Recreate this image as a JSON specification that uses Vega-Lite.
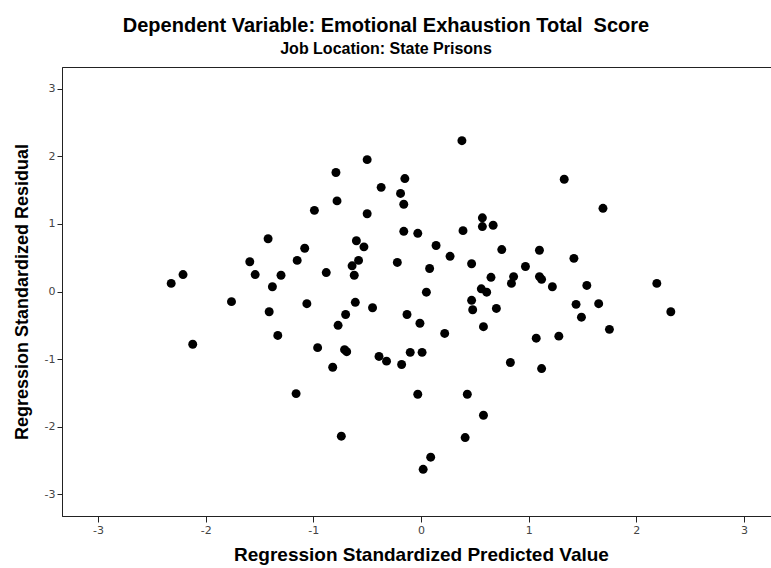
{
  "$schema": "https://vega.github.io/schema/vega-lite/v6.json",
  "autosize": "none",
  "padding": {"left": 62, "top": 67, "right": 0, "bottom": 52},
  "width": 718,
  "height": 449,
  "background": "white",
  "config": {
    "view": {"stroke": "#222", "strokeWidth": 1},
    "axis": {"grid": false, "domainColor": "#222", "tickColor": "#222", "labelFont": "DejaVu Sans", "labelFontSize": 11, "labelColor": "#444", "titleFont": "Liberation Sans", "titleFontWeight": "bold", "titleColor": "#000"}
  },
  "title": {
    "text": "Dependent Variable: Emotional Exhaustion Total\u00a0 Score",
    "subtitle": "Job Location: State Prisons",
    "anchor": "middle",
    "dx": -35,
    "font": "Liberation Sans",
    "fontSize": 20,
    "fontWeight": "bold",
    "color": "#000",
    "subtitleFont": "Liberation Sans",
    "subtitleFontSize": 16,
    "subtitleFontWeight": "bold",
    "subtitleColor": "#000",
    "subtitlePadding": 5,
    "offset": 10
  },
  "data": {"values": [
    {"x": -2.32, "y": 0.12}, {"x": -2.21, "y": 0.25}, {"x": -2.12, "y": -0.78}, {"x": -1.76, "y": -0.15},
    {"x": -1.59, "y": 0.44}, {"x": -1.54, "y": 0.25}, {"x": -1.42, "y": 0.78}, {"x": -1.41, "y": -0.30},
    {"x": -1.38, "y": 0.07}, {"x": -1.33, "y": -0.65}, {"x": -1.30, "y": 0.24}, {"x": -1.16, "y": -1.51},
    {"x": -1.15, "y": 0.46}, {"x": -1.08, "y": 0.64}, {"x": -1.06, "y": -0.18}, {"x": -0.99, "y": 1.20},
    {"x": -0.96, "y": -0.83}, {"x": -0.88, "y": 0.28}, {"x": -0.82, "y": -1.12}, {"x": -0.79, "y": 1.76},
    {"x": -0.78, "y": 1.34}, {"x": -0.77, "y": -0.50}, {"x": -0.74, "y": -2.14}, {"x": -0.71, "y": -0.86},
    {"x": -0.70, "y": -0.34}, {"x": -0.69, "y": -0.89}, {"x": -0.62, "y": 0.24}, {"x": -0.64, "y": 0.38},
    {"x": -0.61, "y": -0.16}, {"x": -0.60, "y": 0.75}, {"x": -0.58, "y": 0.46}, {"x": -0.53, "y": 0.66},
    {"x": -0.50, "y": 1.15}, {"x": -0.50, "y": 1.95}, {"x": -0.45, "y": -0.24}, {"x": -0.39, "y": -0.96},
    {"x": -0.37, "y": 1.54}, {"x": -0.32, "y": -1.03}, {"x": -0.22, "y": 0.43}, {"x": -0.18, "y": -1.08},
    {"x": -0.19, "y": 1.45}, {"x": -0.15, "y": 1.67}, {"x": -0.16, "y": 1.29}, {"x": -0.16, "y": 0.89},
    {"x": -0.13, "y": -0.34}, {"x": -0.10, "y": -0.90}, {"x": -0.03, "y": 0.86}, {"x": -0.03, "y": -1.52},
    {"x": -0.01, "y": -0.47}, {"x": 0.01, "y": -0.90}, {"x": 0.02, "y": -2.63}, {"x": 0.05, "y": -0.01},
    {"x": 0.08, "y": 0.34}, {"x": 0.09, "y": -2.45}, {"x": 0.14, "y": 0.68}, {"x": 0.22, "y": -0.62},
    {"x": 0.27, "y": 0.52}, {"x": 0.38, "y": 2.23}, {"x": 0.39, "y": 0.90}, {"x": 0.41, "y": -2.16},
    {"x": 0.43, "y": -1.52}, {"x": 0.47, "y": 0.41}, {"x": 0.47, "y": -0.13}, {"x": 0.48, "y": -0.27},
    {"x": 0.56, "y": 0.04}, {"x": 0.57, "y": 1.09}, {"x": 0.57, "y": 0.96}, {"x": 0.58, "y": -1.83},
    {"x": 0.58, "y": -0.52}, {"x": 0.61, "y": -0.01}, {"x": 0.65, "y": 0.21}, {"x": 0.67, "y": 0.98},
    {"x": 0.70, "y": -0.25}, {"x": 0.75, "y": 0.62}, {"x": 0.83, "y": -1.05}, {"x": 0.84, "y": 0.12},
    {"x": 0.86, "y": 0.22}, {"x": 0.97, "y": 0.37}, {"x": 1.07, "y": -0.69}, {"x": 1.10, "y": 0.61},
    {"x": 1.10, "y": 0.22}, {"x": 1.12, "y": 0.18}, {"x": 1.12, "y": -1.14}, {"x": 1.22, "y": 0.07},
    {"x": 1.28, "y": -0.66}, {"x": 1.33, "y": 1.66}, {"x": 1.42, "y": 0.49}, {"x": 1.44, "y": -0.19},
    {"x": 1.49, "y": -0.38}, {"x": 1.54, "y": 0.09}, {"x": 1.65, "y": -0.18}, {"x": 1.69, "y": 1.23},
    {"x": 1.75, "y": -0.56}, {"x": 2.19, "y": 0.12}, {"x": 2.32, "y": -0.30}
  ]},
  "mark": {"type": "point", "filled": true, "shape": "circle", "size": 80, "color": "#000", "opacity": 1},
  "encoding": {
    "x": {"field": "x", "type": "quantitative", "scale": {"domain": [-3.334, 3.334], "nice": false, "zero": false},
      "axis": {"title": "Regression Standardized Predicted Value", "titleFontSize": 19, "values": [-3, -2, -1, 0, 1, 2, 3], "labelExpr": "datum.value", "tickSize": 6, "labelPadding": 2, "titlePadding": 10}},
    "y": {"field": "y", "type": "quantitative", "scale": {"domain": [-3.32, 3.32], "nice": false, "zero": false},
      "axis": {"title": "Regression Standardized Residual", "titleFontSize": 18, "values": [-3, -2, -1, 0, 1, 2, 3], "labelExpr": "datum.value", "tickSize": 5, "labelPadding": 2, "titlePadding": 13}}
  }
}
